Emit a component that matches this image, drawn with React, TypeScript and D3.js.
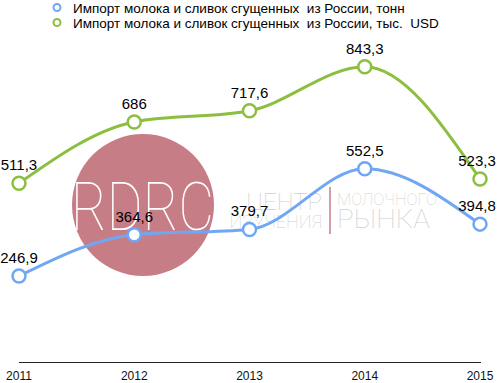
import React from "react";
import * as d3 from "d3";

const years = ["2011", "2012", "2013", "2014", "2015"];
const tonnes = [246.9, 364.6, 379.7, 552.5, 394.8];
const usd = [511.3, 686, 717.6, 843.3, 523.3];
const tonnesLabels = ["246,9", "364,6", "379,7", "552,5", "394,8"];
const usdLabels = ["511,3", "686", "717,6", "843,3", "523,3"];
const legendNames = [
  "Импорт молока и сливок сгущенных  из России, тонн",
  "Импорт молока и сливок сгущенных  из России, тыс.  USD",
];

const W = 500;
const H = 383;
const BLUE = "#70a7f5";
const GREEN = "#8cbf3f";
const FONT = "'Liberation Sans', Arial, Helvetica, sans-serif";

export default function App() {
  const x = d3.scalePoint<string>().domain(years).range([19, 480]);
  const y = d3.scaleLinear().domain([0, 1000]).range([362.7, 11.7]);

  const line = d3
    .line<number>()
    .x((_, i) => x(years[i]) as number)
    .y((d) => y(d))
    .curve(d3.curveMonotoneX);

  const series = [
    { values: tonnes, labels: tonnesLabels, color: BLUE },
    { values: usd, labels: usdLabels, color: GREEN },
  ];

  return (
    <svg
      width={W}
      height={H}
      style={{ position: "fixed", left: 0, top: 0, display: "block", background: "#fff" }}
      fontFamily={FONT}
    >
      {/* watermark */}
      <circle cx={143} cy={205} r={71} fill="#c77d86" />
      <text
        x={71}
        y={230}
        fontSize={66}
        fontFamily="Roboto, 'Open Sans', sans-serif"
        fontWeight={100}
        fill="#ffffff"
        textLength={143}
        lengthAdjust="spacingAndGlyphs"
      >
        RDRC
      </text>
      <text x={322} y={210} fontSize={24} fontWeight={100} fontFamily="Roboto, sans-serif" fill="#cfcfcf" textAnchor="end">
        ЦЕНТР
      </text>
      <text x={322} y={228} fontSize={18} fontWeight={100} fontFamily="Roboto, sans-serif" fill="#cfcfcf" textAnchor="end">
        ИЗУЧЕНИЯ
      </text>
      <line x1={330} x2={330} y1={187} y2={234} stroke="#c77d86" strokeWidth={1.5} />
      <text x={337} y={205} fontSize={17} fontWeight={100} fontFamily="Roboto, sans-serif" fill="#cfcfcf" textLength={100} lengthAdjust="spacingAndGlyphs">
        МОЛОЧНОГО
      </text>
      <text x={337} y={228} fontSize={26} fontWeight={100} fontFamily="Roboto, sans-serif" fill="#cfcfcf" textLength={93} lengthAdjust="spacingAndGlyphs">
        РЫНКА
      </text>

      {/* axis */}
      <line x1={19} x2={481} y1={362.5} y2={362.5} stroke="#222" strokeWidth={1} />
      {years.map((yr) => (
        <text key={yr} x={x(yr)} y={380} fontSize={12} textAnchor="middle" fill="#111">
          {yr}
        </text>
      ))}

      {/* series */}
      {series.map((s, si) => (
        <g key={si}>
          <path d={line(s.values) || ""} fill="none" stroke={s.color} strokeWidth={3} />
          {s.values.map((v, i) => (
            <circle
              key={i}
              cx={x(years[i])}
              cy={y(v)}
              r={6.5}
              fill="#fff"
              stroke={s.color}
              strokeWidth={2.5}
            />
          ))}
          {s.values.map((v, i) => (
            <text
              key={"t" + i}
              x={Math.min(x(years[i]) as number, 477)}
              y={y(v) - 13}
              fontSize={15}
              textAnchor="middle"
              fill="#000"
            >
              {s.labels[i]}
            </text>
          ))}
        </g>
      ))}

      {/* legend */}
      {legendNames.map((name, i) => (
        <g key={name}>
          <circle cx={57} cy={7.5 + i * 15} r={3.5} fill="#fff" stroke={i === 0 ? BLUE : GREEN} strokeWidth={2} />
          <text x={73} y={12.5 + i * 15} fontSize={13.5} fill="#000" style={{ whiteSpace: "pre" }}>
            {name}
          </text>
        </g>
      ))}
    </svg>
  );
}
